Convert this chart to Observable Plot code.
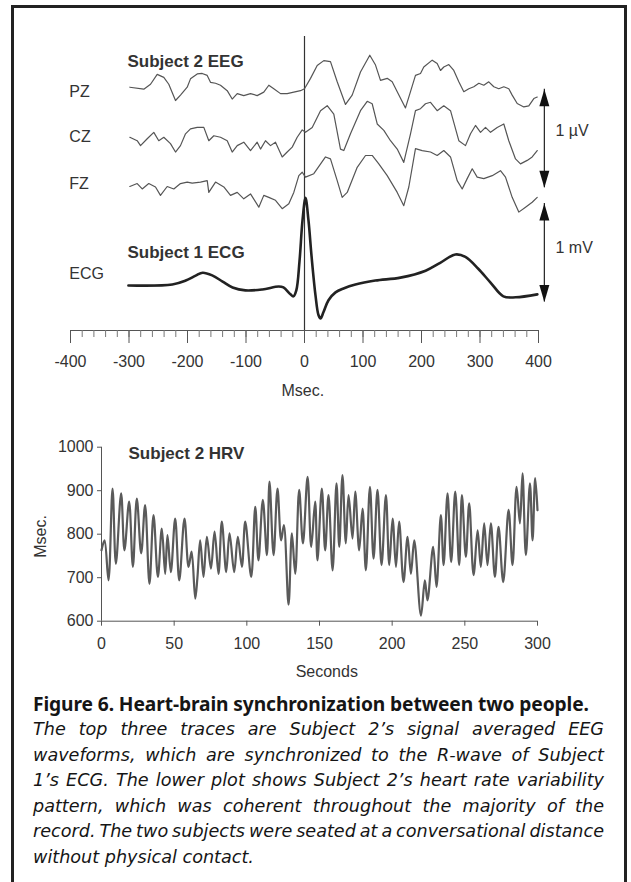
<!DOCTYPE html>
<html>
<head>
<meta charset="utf-8">
<script src="https://cdn.jsdelivr.net/npm/d3@7"></script>
<script src="https://cdn.jsdelivr.net/npm/@observablehq/plot@0.6"></script>
<style>
  html, body { margin: 0; padding: 0; background: #fff; }
  #page { position: relative; width: 631px; height: 882px; overflow: hidden; background: #fff; }
  #frame { position: absolute; left: 11px; top: 5px; width: 610px; height: 920px; border: 3px solid #222; border-bottom: none; }
  #top { position: absolute; left: 0; top: 0; }
  #hrv { position: absolute; left: 0; top: 420px; }
  #caption { position: absolute; left: 33px; top: 692px; width: 571px; color: #151515; line-height: 25.5px; }
  #caption .t { font-family: "Noto Sans", "Open Sans", sans-serif; font-weight: bold; font-size: 19.2px; line-height: 24px; white-space: nowrap; letter-spacing: -0.1px; margin-bottom: 1px; }
  #caption .l { font-family: "DejaVu Sans", "Noto Sans", sans-serif; font-style: italic; font-size: 17.6px; white-space: nowrap; }
  svg { overflow: visible; }
</style>
</head>
<body>
<div id="page">
  <div id="frame"></div>
  <div id="top"></div>
  <div id="hrv"></div>
  <div id="caption">
    <div class="t">Figure 6. Heart-brain synchronization between two people.</div>
    <div class="l fit"><span>The top three traces are Subject 2’s signal averaged EEG</span></div>
    <div class="l fit"><span>waveforms, which are synchronized to the R-wave of Subject</span></div>
    <div class="l fit"><span>1’s ECG. The lower plot shows Subject 2’s heart rate variability</span></div>
    <div class="l fit"><span>pattern, which was coherent throughout the majority of the</span></div>
    <div class="l fit"><span>record. The two subjects were seated at a conversational distance</span></div>
    <div class="l"><span>without physical contact.</span></div>
  </div>
</div>
<script>
// ---------- Top panel data (time in ms relative to Subject 1 R-wave) ----------
const pzMs = [-298.6,-274.7,-263.2,-251.8,-240.5,-232.0,-220.5,-212,-200.5,-194.9,-183.4,-174.9,-166.3,-160.7,-152.1,-143.6,-132.1,-123.6,-115,-103.8,-92.3,-80.9,-69.6,-61,-52.5,-41,-29.6,-18.3,-6.8,0,10.3,21.7,33,44.4,55.9,70.1,81.5,95.7,111.6,121.4,129.9,141.4,149.9,158.5,172.6,181.2,189.7,198.3,203.9,218.3,226.8,232.5,238.1,246.7,255.2,263.8,272.3,280.9,289.4,298,306.5,315,323.6,332.1,340.7,349.2,355,363.6,374.9,383.4,392,397.8];
const pzUv = [0,-0.02,0.03,0.13,0.10,0.03,-0.135,-0.08,0,0.085,0.135,0.14,0.12,0.05,0.04,0.02,-0.035,-0.12,-0.065,-0.085,-0.065,-0.085,-0.05,0.02,-0.015,-0.065,-0.065,-0.05,-0.035,-0.015,0.09,0.22,0.27,0.26,0.055,-0.175,-0.08,0.155,0.325,0.225,0.07,0.09,0.055,-0.045,-0.21,-0.045,0.12,0.14,0.205,0.275,0.24,0.17,0.205,0.23,0.17,0.055,-0.045,-0.015,0.005,0.04,0.02,0.055,0.005,-0.015,0.005,-0.015,-0.08,-0.165,-0.2,-0.19,-0.115,-0.1];

const czMs = [-298.6,-286,-280.3,-268.9,-257.6,-249.1,-240.5,-229.1,-220.5,-212,-203.4,-194.9,-183.4,-172.1,-163.6,-155,-143.6,-132.1,-123.6,-115,-103.8,-92.3,-80.9,-75.2,-66.7,-58.1,-49.6,-38.1,-29.6,-21,-12.5,-3.9,1.7,13.2,27.4,38.8,50.1,61.5,67.2,78.6,95.7,107.2,115.7,124.3,135.6,147,158.5,169.7,181.2,189.7,198.3,206.8,215.4,226.8,238.1,249.6,263.8,275.2,283.8,292.3,300.9,309.4,318,329.4,340.7,349.2,360.7,369.2,380.7,389.2,397.8];
const czUv = [0,-0.035,-0.085,-0.015,0.05,-0.035,0,-0.065,-0.15,-0.085,0.035,0.085,0.10,0.10,-0.035,0.015,0,-0.035,-0.15,-0.085,-0.05,-0.135,-0.05,-0.12,-0.035,-0.085,-0.05,-0.2,-0.15,-0.10,0,0.075,0.05,0.10,0.27,0.32,0.235,-0.12,-0.135,0.035,0.27,0.365,0.34,0.135,0.07,-0.035,-0.12,-0.255,0.035,0.27,0.29,0.34,0.355,0.27,0.32,0.27,-0.035,-0.085,0.035,0.12,0.05,0.10,0.05,0.10,0.135,-0.035,-0.22,-0.27,-0.235,-0.2,-0.135];

const fzMs = [-298.6,-286,-277.4,-266.2,-254.7,-246.2,-234.7,-223.4,-212,-200.5,-192,-177.8,-166.3,-163.6,-152.1,-137.9,-126.5,-115,-103.8,-92.3,-78.1,-69.6,-61,-49.6,-38.1,-26.8,-18.3,-9.7,-3.9,1.7,15.9,35.9,44.4,55.9,64.4,73,90.1,104.3,115.7,127,141.4,158.5,169.7,178.3,189.7,201.2,215.4,226.8,238.1,249.6,261,269.6,278.1,286.7,295.2,306.5,320.9,335,343.6,355,366.3,377.8,389.2,397.8];
const fzUv = [0,0.03,-0.025,0.03,-0.005,-0.09,0,-0.025,0.03,0.045,0.035,0.045,0.06,-0.06,0.045,-0.005,-0.09,-0.06,-0.125,-0.075,-0.21,-0.09,-0.11,-0.14,-0.225,-0.175,-0.06,0.11,0.145,0.095,0.13,0.30,0.28,0.06,-0.11,-0.06,0.195,0.315,0.315,0.23,0.11,-0.06,-0.195,-0.005,0.385,0.365,0.35,0.315,0.365,0.30,0.06,-0.025,0.08,0.18,0.095,0.08,0.11,0.16,0.095,-0.11,-0.26,-0.21,-0.16,-0.11];

const ecgMs = [-301,-226,-203,-186,-174,-157,-140,-123,-101,-72,-44,-36,-24,-19,-14,-8.5,-3.4,1.7,6.8,12,18.8,23.9,27.4,32.5,41,53,66.7,87,121,164,207,232,258,275,297,318,340,361,398];
const ecgMv = [0,0.01,0.05,0.10,0.13,0.10,0.04,-0.02,-0.05,-0.04,-0.01,-0.02,-0.09,-0.11,-0.05,0.25,0.66,0.89,0.66,0.30,-0.10,-0.30,-0.335,-0.27,-0.15,-0.07,-0.03,0.01,0.05,0.08,0.15,0.23,0.315,0.29,0.17,0.03,-0.11,-0.12,-0.09];

const channelNames = ["PZ", "CZ", "FZ", "ECG"];
const channelOffsets = [2.470, 1.962, 1.462, 0.457]; // stacking baseline of each trace

// ---------- HRV data ----------
const hrvSec = [0,2.1,4.8,7.6,9.9,13.5,15.8,19.0,21.6,24.3,27.3,30.0,33.0,35.8,38.8,41.5,43.8,45.4,47.7,50.7,53.5,57.1,59.9,62,64.5,66,67.9,70.2,72.5,75.3,77.8,80.5,82.8,85.8,88.1,91.3,93.8,96.6,98.9,103.0,105.8,108.0,111.0,113.8,115.6,118.4,121.1,123.6,125.5,128.7,131,133.3,136.0,138.6,141.8,144.3,147,148.6,151.6,153.9,156.2,159,161.7,163.6,165.8,168.1,170,172.7,174.6,177.3,179.6,181.9,184.7,187.2,189.9,192.7,195.7,198,200.3,202.6,204.8,207.8,210.6,212.9,215.2,219.8,222.5,224.3,228.2,230.5,233.5,235.4,238.1,240.6,243.4,246.1,248,250.7,253,256,258.8,261,263.3,265.6,267.9,270.7,273.2,276.4,280.1,282.8,285.6,287.9,289.7,292,294.8,296.6,298.4,300];
const hrvMsec = [763,786,694,905,732,894,763,875,725,882,756,867,686,844,702,813,709,798,713,836,694,836,725,760,652,700,786,702,794,721,806,709,829,713,802,713,794,725,829,702,863,740,879,752,921,752,905,786,821,638,802,709,902,779,932,771,875,740,905,763,890,717,917,771,936,779,890,790,898,763,859,717,909,744,902,729,890,729,836,725,829,690,794,709,786,613,694,648,771,679,844,729,894,736,898,729,890,748,871,706,809,725,825,729,825,702,817,690,856,729,909,825,940,752,917,786,929,855];

// ---------- tick values ----------
const msMajorTicks = d3.range(-400, 401, 100);
const msMinorTicks = d3.range(-400, 401, 20);
const secTicks = d3.range(0, 301, 50);
const hrvYTicks = d3.range(600, 1001, 100);

// ---------- build tables ----------
const traces = [
  ...d3.zip(pzMs, pzUv).map(([t, v]) => ({ch: "PZ", t, v})),
  ...d3.zip(czMs, czUv).map(([t, v]) => ({ch: "CZ", t, v})),
  ...d3.zip(fzMs, fzUv).map(([t, v]) => ({ch: "FZ", t, v}))
];
const ecg = d3.zip(ecgMs, ecgMv).map(([t, v]) => ({t, v}));
const hrv = d3.zip(hrvSec, hrvMsec).map(([t, v]) => ({t, v}));
const off = Object.fromEntries(d3.zip(channelNames, channelOffsets));

const FONT = "'Liberation Sans', Arial, Helvetica, sans-serif";
const INK = "#333";

// arrowhead symbols (tip at origin)
const headUp = {draw(ctx) { ctx.moveTo(0, 0); ctx.lineTo(5, 17); ctx.lineTo(-5, 17); ctx.closePath(); }};
const headDown = {draw(ctx) { ctx.moveTo(0, 0); ctx.lineTo(5, -17); ctx.lineTo(-5, -17); ctx.closePath(); }};

// scale bar geometry (in trace units: 1 µV for EEG, 1 mV for ECG)
const barX = 410;
const uvBar = {y1: 1.45, y2: 2.45};
const mvBar = {y1: 0.29, y2: 1.29};

const chanLabels = [
  {x: -402, y: 2.419, text: "PZ"},
  {x: -402, y: 1.962, text: "CZ"},
  {x: -402, y: 1.492, text: "FZ"},
  {x: -402, y: 0.579, text: "ECG"}
];
const titles = [
  {x: -302.6, y: 2.731, text: "Subject 2 EEG"},
  {x: -302.6, y: 0.792, text: "Subject 1 ECG"}
];
const barLabels = [
  {x: 429, y: 2.03, text: "1 µV"},
  {x: 429, y: 0.843, text: "1 mV"}
];

const topPlot = Plot.plot({
  width: 631, height: 420,
  marginLeft: 70, marginRight: 93, marginTop: 36, marginBottom: 90,
  x: {domain: [-400, 400]},
  y: {domain: [0, 2.985], axis: null},
  style: {fontFamily: FONT, fontSize: "16px", color: INK, background: "transparent", overflow: "visible"},
  marks: [
    Plot.ruleY([0], {stroke: "#555", strokeWidth: 1}),
    Plot.axisX(msMinorTicks, {tickSize: 7, tickFormat: () => "", stroke: "#777", label: null}),
    Plot.axisX(msMajorTicks, {tickSize: 13, tickPadding: 12, tickFormat: d => String(d), stroke: "#555", label: null, fontSize: 16, fill: INK}),
    Plot.ruleX([0], {y1: 0, y2: 2.985, stroke: "#333", strokeWidth: 1.2}),
    Plot.line(traces, {x: "t", y: d => off[d.ch] + d.v, z: "ch", stroke: "#555", strokeWidth: 1.2}),
    Plot.line(ecg, {x: "t", y: d => off.ECG + d.v, stroke: "#222", strokeWidth: 2.6, curve: "catmull-rom"}),
    Plot.ruleX([barX], {y1: uvBar.y1, y2: uvBar.y2, stroke: "#222", strokeWidth: 1.2}),
    Plot.ruleX([barX], {y1: mvBar.y1, y2: mvBar.y2, stroke: "#222", strokeWidth: 1.2}),
    Plot.dot([uvBar.y2, mvBar.y2], {x: () => barX, y: d => d, symbol: headUp, fill: "#111", stroke: null}),
    Plot.dot([uvBar.y1, mvBar.y1], {x: () => barX, y: d => d, symbol: headDown, fill: "#111", stroke: null}),
    Plot.text(chanLabels, {x: "x", y: "y", text: "text", textAnchor: "start", fontSize: 16, fill: INK}),
    Plot.text(titles, {x: "x", y: "y", text: "text", textAnchor: "start", fontSize: 17, fontWeight: "bold", fill: INK}),
    Plot.text(barLabels, {x: "x", y: "y", text: "text", textAnchor: "start", fontSize: 16, fill: INK}),
    Plot.text(["Msec."], {x: () => -3, y: () => -0.61, text: d => d, fontSize: 16, fill: INK})
  ]
});
document.getElementById("top").append(topPlot);

const hrvPlot = Plot.plot({
  width: 631, height: 270,
  marginLeft: 101, marginRight: 94, marginTop: 26.7, marginBottom: 69.3,
  x: {domain: [0, 300]},
  y: {domain: [600, 1000]},
  style: {fontFamily: FONT, fontSize: "16px", color: INK, background: "transparent", overflow: "visible"},
  marks: [
    Plot.ruleX([0], {stroke: "#555", strokeWidth: 1}),
    Plot.ruleY([600], {stroke: "#555", strokeWidth: 1}),
    Plot.axisY(hrvYTicks, {tickSize: 4, tickPadding: 4, tickFormat: d => String(d), stroke: "#555", label: null, fontSize: 16, fill: INK}),
    Plot.axisX(secTicks, {tickSize: 5, tickPadding: 11, tickFormat: d => String(d), stroke: "#555", label: null, fontSize: 16, fill: INK}),
    Plot.line(hrv, {x: "t", y: "v", stroke: "#5a5a5a", strokeWidth: 2.2, curve: "catmull-rom"}),
    Plot.text(["Subject 2 HRV"], {x: () => 18.6, y: () => 985, text: d => d, textAnchor: "start", fontSize: 17, fontWeight: "bold", fill: INK}),
    Plot.text(["Msec."], {x: () => -42, y: () => 795, text: d => d, rotate: -90, fontSize: 16, fill: INK}),
    Plot.text(["Seconds"], {x: () => 155, y: () => 484, text: d => d, fontSize: 16, fill: INK})
  ]
});
document.getElementById("hrv").append(hrvPlot);

// justify caption lines to the full column width by adjusting word spacing
const COL = 571;
document.querySelectorAll("#caption .fit").forEach(div => {
  const span = div.querySelector("span");
  const w = span.getBoundingClientRect().width;
  const gaps = (span.textContent.match(/ /g) || []).length;
  if (gaps) div.style.wordSpacing = ((COL - w) / gaps) + "px";
});
</script>
</body>
</html>
